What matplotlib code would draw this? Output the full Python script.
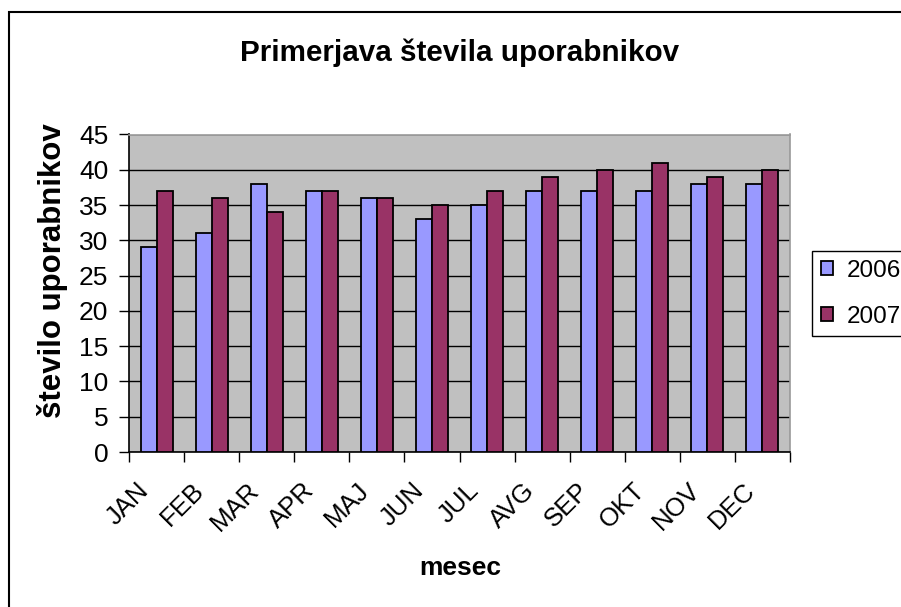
import matplotlib
matplotlib.use("Agg")
import matplotlib.pyplot as plt
import matplotlib.transforms as mtransforms
import numpy as np
from matplotlib.patches import Rectangle

months = ["JAN", "FEB", "MAR", "APR", "MAJ", "JUN", "JUL", "AVG", "SEP", "OKT", "NOV", "DEC"]
v2006 = [29, 31, 38, 37, 36, 33, 35, 37, 37, 37, 38, 38]
v2007 = [37, 36, 34, 37, 36, 35, 37, 39, 40, 41, 39, 40]
yticks = list(range(0, 50, 5))

plt.rcParams['font.family'] = ['Liberation Sans', 'DejaVu Sans']

fig = plt.figure(figsize=(9.01, 6.07), dpi=100)
fig.patch.set_facecolor("white")
# outer chart border (left/top visible)
fig.patches.append(Rectangle((9/901, -0.01), 1.0, 1 - 12/607 + 0.01, transform=fig.transFigure,
                             fill=False, edgecolor="black", linewidth=1.5, zorder=0))

ax = fig.add_axes([129/901, 1 - 452/607, (790 - 129)/901, (452 - 134.5)/607])
ax.set_facecolor("#C0C0C0")

x = np.arange(len(months))
w = 0.29
ax.bar(x - w/2, v2006, width=w, color="#9999FF", edgecolor="black", linewidth=1.3, label="2006", zorder=3)
ax.bar(x + w/2, v2007, width=w, color="#993366", edgecolor="black", linewidth=1.3, label="2007", zorder=3)

ax.set_xlim(-0.5, len(months) - 0.5)
ax.set_ylim(0, 45)
ax.set_yticks(yticks)
ax.yaxis.grid(True, color="black", linewidth=1)
ax.set_axisbelow(True)
ax.tick_params(axis="y", direction="out", length=7, width=1, labelsize=19, pad=8)

ax.set_xticks(x)
ax.set_xticklabels(months, rotation=45, ha="right", va="top", rotation_mode="anchor", fontsize=18.5)
ax.tick_params(axis="x", which="major", length=0, pad=19)
ax.set_xticks(np.arange(-0.5, len(months) + 0.5, 1), minor=True)
ax.tick_params(axis="x", which="minor", direction="out", length=7, width=1)
offset = mtransforms.ScaledTranslation(-20/100, 0, fig.dpi_scale_trans)
for lbl in ax.get_xticklabels():
    lbl.set_transform(lbl.get_transform() + offset)

for s in ["left", "bottom"]:
    ax.spines[s].set_color("black")
    ax.spines[s].set_linewidth(1.2)
for s in ["top", "right"]:
    ax.spines[s].set_color("#999999")
    ax.spines[s].set_linewidth(1.2)

fig.text(53/901, 1 - 271/607, "število uporabnikov", rotation=90, ha="center", va="center",
         fontsize=22.5, fontweight="bold")
fig.text(460/901, 1 - 568/607, "mesec", ha="center", va="center",
         fontsize=19, fontweight="bold")
fig.text(460/901, 1 - 53/607, "Primerjava števila uporabnikov", ha="center", va="center",
         fontsize=21.3, fontweight="bold")

leg = fig.legend(loc="upper left", bbox_to_anchor=(812/901, 1 - 251/607), fontsize=17.5,
                 frameon=True, fancybox=False, edgecolor="black", framealpha=1,
                 handlelength=0.5, handleheight=0.5, handletextpad=0.6, borderpad=0.35,
                 labelspacing=1.0, borderaxespad=0)
leg.get_frame().set_linewidth(1)

fig.savefig("out.png", dpi=100)
